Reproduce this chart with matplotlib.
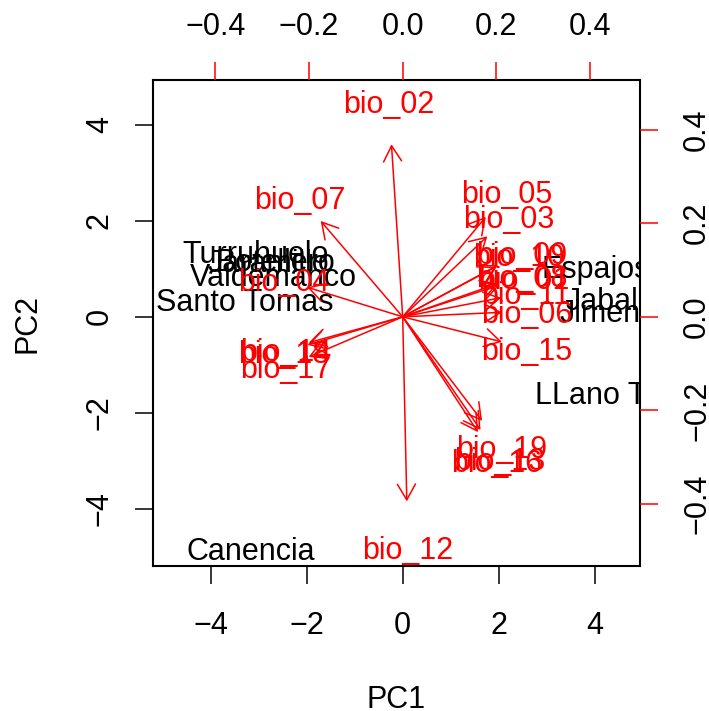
import numpy as np
import matplotlib.pyplot as plt

plt.rcParams['font.family'] = ['Liberation Sans', 'DejaVu Sans']
plt.rcParams['font.size'] = 22

# site scores on the first two components
sites = ['Turruhuelo', 'Botellero', 'Jaramillo', 'Valdemanco', 'Santo Tomas',
         'Canencia', 'Espajosa', 'Jabalcuz', 'Jimena', 'LLano Tobar']
pc1 = [-3.07, -2.66, -2.81, -2.69, -3.30, -3.17, 4.21, 4.66, 4.30, 4.52]
pc2 = [1.37, 1.19, 1.17, 0.89, 0.37, -4.82, 1.05, 0.38, 0.13, -1.58]

# variable loadings
variables = ['bio_01', 'bio_02', 'bio_03', 'bio_04', 'bio_05', 'bio_06', 'bio_07',
             'bio_08', 'bio_09', 'bio_10', 'bio_11', 'bio_12', 'bio_13', 'bio_14',
             'bio_15', 'bio_16', 'bio_17', 'bio_18', 'bio_19']
load1 = [0.259, -0.030, 0.226, -0.255, 0.222, 0.265, -0.219, 0.255, 0.254, 0.249,
         0.263, 0.011, 0.208, -0.251, 0.265, 0.201, -0.251, -0.254, 0.212]
load2 = [0.085, 0.461, 0.215, 0.079, 0.267, 0.012, 0.256, 0.089, 0.138, 0.134,
         0.051, -0.493, -0.302, -0.069, -0.067, -0.308, -0.107, -0.075, -0.278]

fig = plt.figure(figsize=(7.09, 7.11), dpi=100)
ax = fig.add_axes([0.2158, 0.2039, 0.6862, 0.6829])
ax.set_xlim(-5.208, 4.938)
ax.set_ylim(-5.192, 4.923)

for name, x, y in zip(sites, pc1, pc2):
    ax.text(x, y, name, color='black', ha='center', va='center_baseline', clip_on=True)

ax.set_xticks([-4, -2, 0, 2, 4])
ax.set_yticks([-4, -2, 0, 2, 4])
ax.tick_params(direction='out', length=13, width=1.1)
ax.tick_params(axis='x', pad=19.5)
ax.tick_params(axis='y', pad=14.5, labelrotation=90)
plt.setp(ax.get_yticklabels(), va='center')
for s in ax.spines.values():
    s.set_linewidth(1.5)

ax.set_xlabel('PC1')
ax.xaxis.set_label_coords(0.5, -0.245)
ax.set_ylabel('PC2')
ax.yaxis.set_label_coords(-0.227, 0.5)

# loadings on their own scale, top and right axes
ax2 = fig.add_axes(ax.get_position(), frameon=False)
ax2.set_xlim(-0.5335, 0.506)
ax2.set_ylim(-0.5325, 0.505)
ax2.xaxis.tick_top()
ax2.yaxis.tick_right()
ax2.set_xticks([-0.4, -0.2, 0.0, 0.2, 0.4])
ax2.set_yticks([-0.4, -0.2, 0.0, 0.2, 0.4])
ax2.tick_params(direction='out', length=13, width=1.1, color='red', labelcolor='black')
ax2.tick_params(axis='x', pad=15)
ax2.tick_params(axis='y', pad=17.6, labelrotation=90)
plt.setp(ax2.get_yticklabels(), va='center')

for lx, ly in zip(load1, load2):
    ax2.annotate('', xy=(0.8 * lx, 0.8 * ly), xytext=(0, 0),
                 arrowprops=dict(arrowstyle='->,head_length=1.13,head_width=0.65',
                                 color='red', lw=1.1, shrinkA=0, shrinkB=0,
                                 mutation_scale=10))
for v, lx, ly in zip(variables, load1, load2):
    ax2.text(lx, ly, v, color='red', ha='center', va='center_baseline', clip_on=True)

fig.savefig('out.png', dpi=100)
